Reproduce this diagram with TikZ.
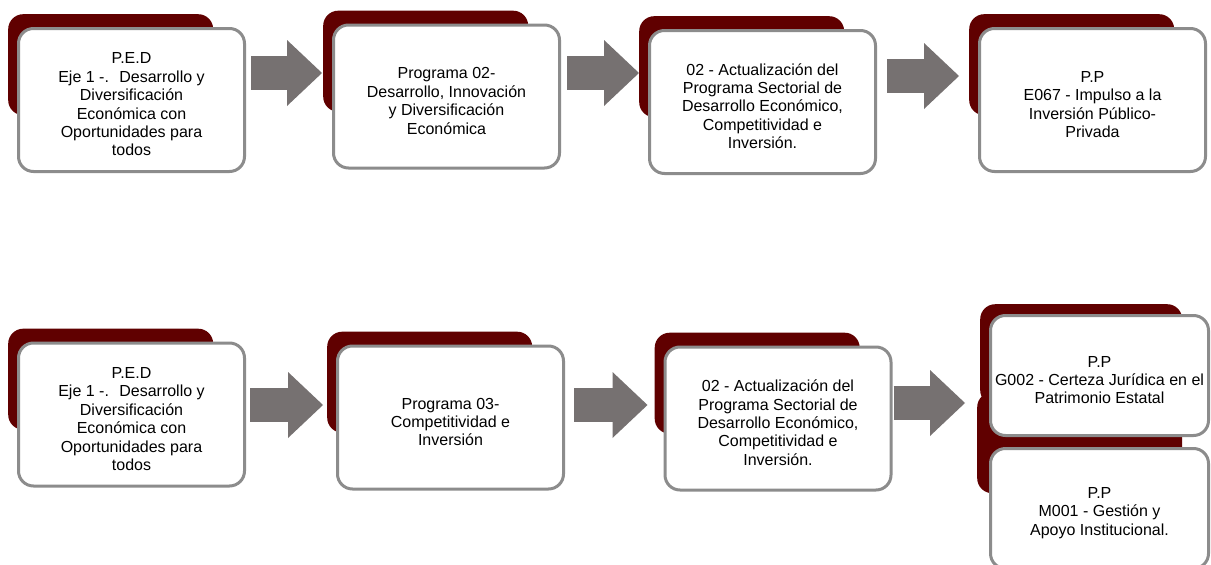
\documentclass[tikz,border=0pt]{standalone}
\usepackage{fontspec}
\setmainfont{Liberation Sans}
\usetikzlibrary{arrows.meta,positioning,backgrounds}

\definecolor{tabred}{HTML}{600000}
\definecolor{edgegray}{HTML}{8C8C8C}
\definecolor{flowgray}{HTML}{767171}

\begin{document}
\begin{tikzpicture}[x=1pt,y=-1pt,node distance=320pt,
  stagebox/.style={draw=edgegray, line width=3pt, fill=white, rounded corners=15pt,
    minimum width=226pt, minimum height=143pt, align=center, inner sep=2pt,
    font=\fontsize{16pt}{18.4pt}\selectfont},
  backtab/.style={fill=tabred, rounded corners=15pt, minimum width=205pt,
    minimum height=101pt, inner sep=0pt},
  flowarrow/.style={draw=flowgray, line width=34pt,
    -{Triangle[length=35pt,width=66pt,line width=0pt]}}]
  \useasboundingbox (0,0) rectangle (1211,565);
  \clip (0,0) rectangle (1211,565);

  % first chain
  \node[stagebox] (a1) at (131.5,100)
    {\rule{0pt}{20pt}P.E.D\\Eje 1 -.~ Desarrollo y\\Diversificación\\Económica con\\Oportunidades para\\todos};
  \node[stagebox] (a2) [right of=a1, xshift=-5pt, yshift=3.5pt]
    {\rule{0pt}{20pt}Programa 02-\\Desarrollo, Innovación\\y Diversificación\\Económica};
  \node[stagebox] (a3) [right of=a2, xshift=-4pt, yshift=-5.5pt]
    {\rule{0pt}{20pt}02 - Actualización del\\Programa Sectorial de\\Desarrollo Económico,\\Competitividad e\\Inversión.};
  \node[stagebox] (a4) [right of=a3, xshift=10pt, yshift=2pt]
    {\rule{0pt}{20pt}P.P\\E067 - Impulso a la\\Inversión Público-\\Privada};

  % second chain
  \node[stagebox] (b1) [below of=a1, yshift=5.5pt]
    {\rule{0pt}{20pt}P.E.D\\Eje 1 -.~ Desarrollo y\\Diversificación\\Económica con\\Oportunidades para\\todos};
  \node[stagebox] (b2) [right of=b1, xshift=-1pt, yshift=-3pt]
    {\rule{0pt}{20pt}Programa 03-\\Competitividad e\\Inversión};
  \node[stagebox] (b3) [right of=b2, xshift=7.5pt, yshift=-1pt]
    {\rule{0pt}{20pt}02 - Actualización del\\Programa Sectorial de\\Desarrollo Económico,\\Competitividad e\\Inversión.};
  \node[stagebox, minimum width=218pt, minimum height=120pt] (b4) [right of=b3, xshift=1.5pt, yshift=43pt]
    {\rule{0pt}{20pt}P.P\\G002 - Certeza Jurídica en el\\Patrimonio Estatal};
  \node[stagebox, minimum width=218pt, minimum height=120pt] (b5) [below=10pt of b4]
    {\rule{0pt}{20pt}P.P\\M001 - Gestión y\\Apoyo Institucional.};

  \begin{pgfonlayer}{background}
    \fill[white] (0,0) rectangle (1211,565);
    \foreach \n in {a1,a2,a3,a4,b1,b2,b3}
      \node[backtab, anchor=north west] (\n tab) at ([shift={(-9pt,13pt)}]\n.north west) {};
    \node[backtab, anchor=north west, minimum width=202pt] (b4tab) at ([shift={(-9pt,10pt)}]b4.north west) {};
    \node[backtab, anchor=north west] (b5tab) at ([shift={(-12pt,55pt)}]b5.north west) {};
  \end{pgfonlayer}

  \draw[flowarrow] ([shift={(5pt,27pt)}]a1.east) -- ([shift={(-10pt,23.5pt)}]a2.west);
  \draw[flowarrow] ([shift={(6pt,23.5pt)}]a2.east) -- ([shift={(-9pt,29pt)}]a3.west);
  \draw[flowarrow] ([shift={(10pt,26pt)}]a3.east) -- ([shift={(-19pt,24pt)}]a4.west);

  \draw[flowarrow] ([shift={(4pt,9.5pt)}]b1.east) -- ([shift={(-13pt,12.5pt)}]b2.west);
  \draw[flowarrow] ([shift={(9pt,12.5pt)}]b2.east) -- ([shift={(-16pt,13.5pt)}]b3.west);
  \draw[flowarrow] ([shift={(1pt,15.5pt)}]b3.east) -- ([shift={(-24pt,-27.5pt)}]b4.west);
\end{tikzpicture}
\end{document}
